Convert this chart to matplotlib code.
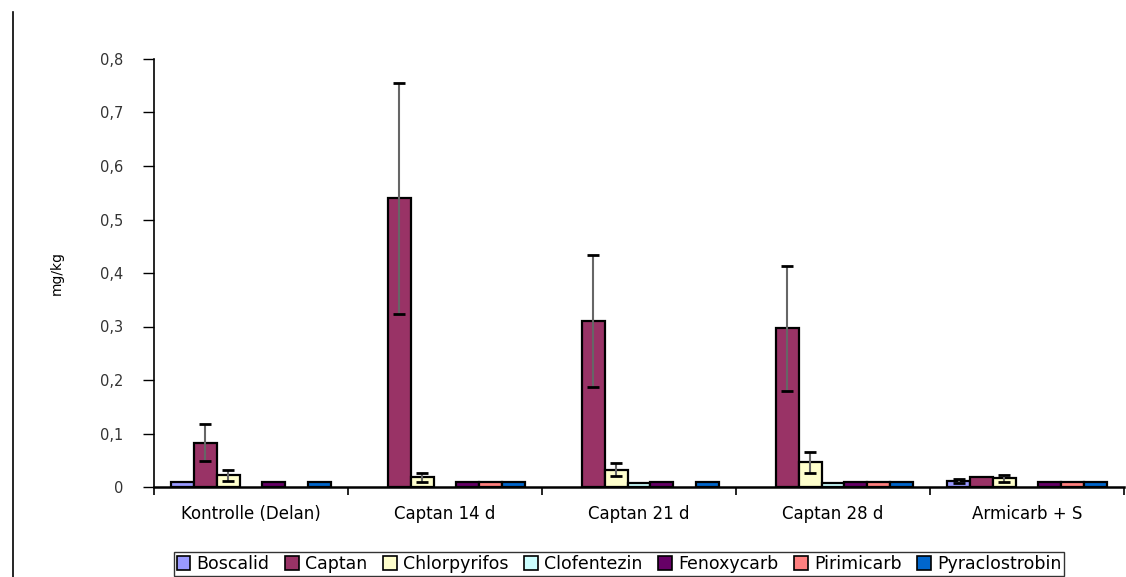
import numpy as np
import matplotlib
matplotlib.use("Agg")
import matplotlib.pyplot as plt
from matplotlib.lines import Line2D
from matplotlib.ticker import FuncFormatter

# groups and series (nan = no bar)
groups = ["Kontrolle (Delan)", "Captan 14 d", "Captan 21 d", "Captan 28 d", "Armicarb + S"]
series = ["Boscalid", "Captan", "Chlorpyrifos", "Clofentezin", "Fenoxycarb", "Pirimicarb", "Pyraclostrobin"]
colors = ["#9999FF", "#993366", "#FFFFCC", "#CCFFFF", "#660066", "#FF8080", "#0066CC"]
nan = np.nan

boscalid = [0.009, nan, nan, nan, 0.011]
captan = [0.083, 0.54, 0.31, 0.297, 0.018]
chlorpyrifos = [0.022, 0.018, 0.032, 0.046, 0.016]
clofentezin = [nan, nan, 0.008, 0.008, nan]
fenoxycarb = [0.009, 0.009, 0.009, 0.009, 0.009]
pirimicarb = [nan, 0.009, nan, 0.009, 0.009]
pyraclostrobin = [0.009, 0.009, 0.009, 0.009, 0.009]

# standard deviation (symmetric) for bars that have error bars
boscalid_err = [nan, nan, nan, nan, 0.004]
captan_err = [0.035, 0.216, 0.123, 0.117, nan]
chlorpyrifos_err = [0.01, 0.008, 0.012, 0.02, 0.006]

values = [boscalid, captan, chlorpyrifos, clofentezin, fenoxycarb, pirimicarb, pyraclostrobin]
errors = {0: boscalid_err, 1: captan_err, 2: chlorpyrifos_err}

fig = plt.figure(figsize=(11.26, 5.77), dpi=100)
ax = fig.add_axes([154 / 1126, 1 - 487 / 577, 970 / 1126, 428 / 577])

x = np.arange(len(groups)) + 0.5
w = 1 / 8.5
for j, name in enumerate(series):
    pos = x + (j - 3) * w
    ax.bar(pos, values[j], w, color=colors[j], edgecolor="black", linewidth=1.6,
           label=name, zorder=2)
    if j in errors:
        eb = ax.errorbar(pos, values[j], yerr=errors[j], fmt="none", ecolor="#666666",
                         elinewidth=1.5, capsize=4.5, capthick=2, zorder=3)
        for cl in eb[1]:
            cl.set_markeredgecolor("black")
            cl.set_color("black")

ax.set_xlim(0, len(groups))
ax.set_ylim(0, 0.8)
ax.set_yticks(np.arange(0, 0.81, 0.1))
ax.yaxis.set_major_formatter(FuncFormatter(lambda v, p: "0" if v == 0 else f"{v:.1f}".replace(".", ",")))
ax.set_xticks(np.arange(0, len(groups) + 1))
ax.set_xticklabels([])
ax.set_xticks(x, minor=True)
ax.set_xticklabels(groups, minor=True, fontsize=12)
ax.tick_params(axis="x", which="minor", length=0, pad=13)
ax.tick_params(axis="x", which="major", direction="out", length=6, width=1.2)
ax.tick_params(axis="y", direction="out", length=8, width=1, labelsize=10.5, pad=14,
               labelcolor="#333333")

for s in ["top", "right"]:
    ax.spines[s].set_visible(False)
ax.spines["left"].set_linewidth(1.2)
ax.spines["bottom"].set_linewidth(1.8)

ax.set_ylabel("mg/kg", fontsize=10, labelpad=26)

leg = ax.legend(loc="center", bbox_to_anchor=(619 / 1126, 1 - 564 / 577), bbox_transform=fig.transFigure,
                ncol=7, fontsize=12.5, frameon=True, fancybox=False, handlelength=0.8,
                handleheight=0.8, handletextpad=0.35, columnspacing=0.9, borderpad=0.15)
leg.get_frame().set_edgecolor("black")
leg.get_frame().set_linewidth(1)
for h in leg.legend_handles:
    h.set_linewidth(1.2)

fig.add_artist(Line2D([13 / 1126, 13 / 1126], [0, 1 - 12 / 577], color="black", linewidth=1.2))

fig.savefig("out.png", dpi=100)
